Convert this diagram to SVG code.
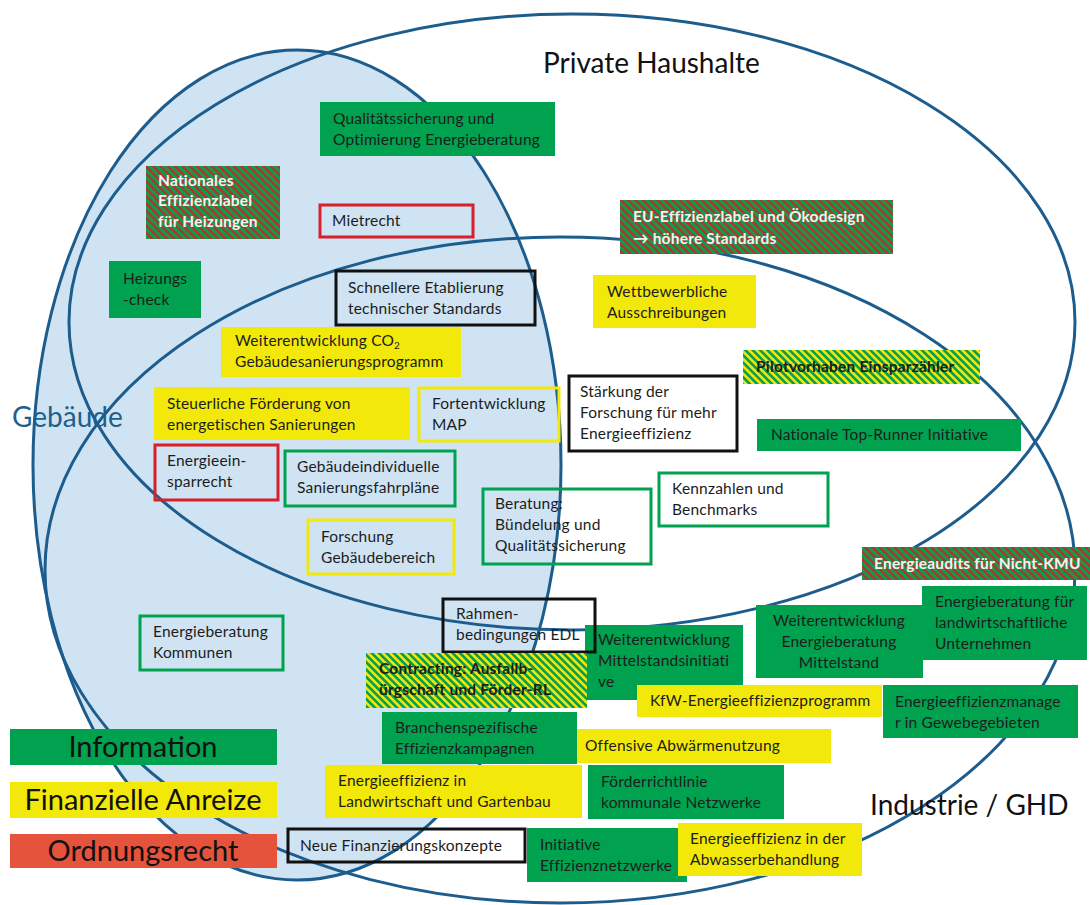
<svg xmlns="http://www.w3.org/2000/svg" width="1090" height="905" viewBox="0 0 1090 905">
<defs>
<pattern id="stripesRG" width="5.2" height="5.2" patternUnits="userSpaceOnUse" patternTransform="rotate(-45)"><rect width="5.2" height="5.2" fill="#0a9f4c"/><rect width="2.2" height="5.2" fill="#bf2a2a"/></pattern>
<pattern id="stripesYG" width="5.2" height="5.2" patternUnits="userSpaceOnUse" patternTransform="rotate(-45)"><rect width="5.2" height="5.2" fill="#0a9f4c"/><rect width="2.6" height="5.2" fill="#f0e60f"/></pattern>
<style>
.set{fill:none;stroke:#1d5d8e;stroke-width:3}
.fg{fill:#00a14f}
.fy{fill:#f2e90a}
.fr{fill:#e5533c}
.frg{fill:url(#stripesRG)}
.fyg{fill:url(#stripesYG)}
.bk{fill:none;stroke:#111;stroke-width:3}
.br{fill:none;stroke:#d8202a;stroke-width:3}
.bg{fill:none;stroke:#00a14f;stroke-width:3}
.by{fill:none;stroke:#f2e90a;stroke-width:3}
text{font-family:Lato,"Liberation Sans",sans-serif}
.t{font-size:15.5px;letter-spacing:0.2px;fill:#1c1c1c}
.tw{font-size:15.5px;letter-spacing:0.2px;fill:#f4f4f4;font-weight:bold}
.td{font-size:15.5px;letter-spacing:0.2px;fill:#1c1c1c;font-weight:bold}
.leg{font-size:29px;fill:#111;text-anchor:middle}
.title{font-size:28px;fill:#111}
</style>
</defs>
<rect width="1090" height="905" fill="#fff"/>
<g id="sets">
<ellipse cx="297" cy="465" rx="264" ry="415" fill="#cfe3f3" stroke="none"/>
<ellipse class="set" cx="297" cy="465" rx="264" ry="415"/>
<ellipse class="set" cx="572" cy="322" rx="503" ry="308"/>
<ellipse class="set" cx="560" cy="570" rx="515" ry="333"/>
</g>
<g id="titles">
<text class="title" x="543" y="73">Private Haushalte</text>
<text class="title" x="12" y="427" style="fill:#1f5f8b">Gebäude</text>
<text class="title" x="870" y="815">Industrie / GHD</text>
</g>
<g id="n-qualitaet"><rect class="fg" x="320" y="102" width="235" height="54"/><text class="t"><tspan x="333" y="124">Qualitätssicherung und</tspan><tspan x="333" y="145">Optimierung Energieberatung</tspan></text></g>
<g id="n-nationales"><rect class="frg" x="146" y="166" width="134" height="73"/><text class="tw"><tspan x="158" y="186">Nationales</tspan><tspan x="158" y="206">Effizienzlabel</tspan><tspan x="158" y="227">für Heizungen</tspan></text></g>
<g id="n-mietrecht"><rect class="br" x="320" y="205" width="153" height="32"/><text class="t"><tspan x="332" y="226">Mietrecht</tspan></text></g>
<g id="n-heizungscheck"><rect class="fg" x="109" y="261" width="92" height="57"/><text class="t"><tspan x="123" y="284">Heizungs</tspan><tspan x="123" y="305">-check</tspan></text></g>
<g id="n-schnellere"><rect class="bk" x="336" y="271" width="199" height="54"/><text class="t"><tspan x="348" y="293">Schnellere Etablierung</tspan><tspan x="348" y="314">technischer Standards</tspan></text></g>
<g id="n-eu"><rect class="frg" x="620" y="200" width="273" height="54"/><text class="tw"><tspan x="633" y="222">EU-Effizienzlabel  und Ökodesign</tspan><tspan x="633" y="244">→ höhere Standards</tspan></text></g>
<g id="n-co2"><rect class="fy" x="221" y="327" width="240" height="50"/><text class="t"><tspan x="235" y="346">Weiterentwicklung CO</tspan><tspan font-size="10" dy="3">2</tspan><tspan x="235" y="367">Gebäudesanierungsprogramm</tspan></text></g>
<g id="n-wettbewerb"><rect class="fy" x="593" y="275" width="163" height="53"/><text class="t"><tspan x="607" y="297">Wettbewerbliche</tspan><tspan x="607" y="318">Ausschreibungen</tspan></text></g>
<g id="n-pilot"><rect class="fyg" x="743" y="350" width="237" height="34"/><text class="td"><tspan x="756" y="372">Pilotvorhaben Einsparzähler</tspan></text></g>
<g id="n-steuer"><rect class="fy" x="154" y="387" width="256" height="53"/><text class="t"><tspan x="167" y="409">Steuerliche Förderung von</tspan><tspan x="167" y="430">energetischen Sanierungen</tspan></text></g>
<g id="n-map"><rect class="by" x="419" y="388" width="140" height="53"/><text class="t"><tspan x="432" y="409">Fortentwicklung</tspan><tspan x="432" y="430">MAP</tspan></text></g>
<g id="n-staerkung"><rect class="bk" x="569" y="376" width="168" height="75"/><text class="t"><tspan x="580" y="397">Stärkung der</tspan><tspan x="580" y="418">Forschung für mehr</tspan><tspan x="580" y="439">Energieeffizienz</tspan></text></g>
<g id="n-toprunner"><rect class="fg" x="757" y="419" width="264" height="32"/><text class="t"><tspan x="771" y="440">Nationale Top-Runner Initiative</tspan></text></g>
<g id="n-energieeinspar"><rect class="br" x="155" y="445" width="123" height="55"/><text class="t"><tspan x="167" y="466">Energieein-</tspan><tspan x="167" y="487">sparrecht</tspan></text></g>
<g id="n-fahrplaene"><rect class="bg" x="285" y="451" width="170" height="55"/><text class="t"><tspan x="297" y="472">Gebäudeindividuelle</tspan><tspan x="297" y="493">Sanierungsfahrpläne</tspan></text></g>
<g id="n-kennzahlen"><rect class="bg" x="659" y="473" width="169" height="53"/><text class="t"><tspan x="672" y="494">Kennzahlen und</tspan><tspan x="672" y="515">Benchmarks</tspan></text></g>
<g id="n-beratung"><rect class="bg" x="483" y="489" width="168" height="75"/><text class="t"><tspan x="495" y="509">Beratung:</tspan><tspan x="495" y="530">Bündelung und</tspan><tspan x="495" y="551">Qualitätssicherung</tspan></text></g>
<g id="n-forschung"><rect class="by" x="308" y="520" width="146" height="54"/><text class="t"><tspan x="321" y="542">Forschung</tspan><tspan x="321" y="563">Gebäudebereich</tspan></text></g>
<g id="n-audits"><rect class="frg" x="862" y="547" width="228" height="33"/><text class="tw"><tspan x="874" y="569">Energieaudits für Nicht-KMU</tspan></text></g>
<g id="n-kommunen"><rect class="bg" x="140" y="616" width="143" height="54"/><text class="t"><tspan x="153" y="637">Energieberatung</tspan><tspan x="153" y="658">Kommunen</tspan></text></g>
<g id="n-landwirt-beratung"><rect class="fg" x="922" y="586" width="165" height="74"/><text class="t"><tspan x="935" y="607">Energieberatung für</tspan><tspan x="935" y="628">landwirtschaftliche</tspan><tspan x="935" y="649">Unternehmen</tspan></text></g>
<g id="n-mittelstand-beratung"><rect class="fg" x="756" y="605" width="167" height="73"/><text class="t" text-anchor="middle"><tspan x="839" y="626">Weiterentwicklung</tspan><tspan x="839" y="647">Energieberatung</tspan><tspan x="839" y="668">Mittelstand</tspan></text></g>
<g id="n-mittelstandsinitiative"><rect class="fg" x="585" y="625" width="158" height="75"/><text class="t"><tspan x="598" y="645">Weiterentwicklung</tspan><tspan x="598" y="666">Mittelstandsinitiati</tspan><tspan x="598" y="687">ve</tspan></text></g>
<g id="n-rahmen"><rect class="bk" x="443" y="599" width="152" height="53"/><text class="t"><tspan x="456" y="619">Rahmen-</tspan><tspan x="456" y="640">bedingungen EDL</tspan></text></g>
<g id="n-contracting"><rect class="fyg" x="366" y="653" width="221" height="55"/><text class="td"><tspan x="379" y="674">Contracting: Ausfallb-</tspan><tspan x="379" y="695">ürgschaft und Förder-RL</tspan></text></g>
<g id="n-kfw"><rect class="fy" x="637" y="685" width="245" height="32"/><text class="t"><tspan x="650" y="706">KfW-Energieeffizienzprogramm</tspan></text></g>
<g id="n-manager"><rect class="fg" x="883" y="685" width="195" height="53"/><text class="t"><tspan x="895" y="707">Energieeffizienzmanage</tspan><tspan x="895" y="728">r in Gewebegebieten</tspan></text></g>
<g id="n-branchen"><rect class="fg" x="382" y="712" width="195" height="52"/><text class="t"><tspan x="395" y="733">Branchenspezifische</tspan><tspan x="395" y="754">Effizienzkampagnen</tspan></text></g>
<g id="n-abwaerme"><rect class="fy" x="577" y="729" width="254" height="34"/><text class="t"><tspan x="585" y="751">Offensive Abwärmenutzung</tspan></text></g>
<g id="n-landwirt"><rect class="fy" x="325" y="765" width="257" height="53"/><text class="t"><tspan x="338" y="786">Energieeffizienz in</tspan><tspan x="338" y="807">Landwirtschaft und Gartenbau</tspan></text></g>
<g id="n-foerder"><rect class="fg" x="588" y="765" width="196" height="54"/><text class="t"><tspan x="601" y="787">Förderrichtlinie</tspan><tspan x="601" y="808">kommunale Netzwerke</tspan></text></g>
<g id="n-neue"><rect class="bk" x="288" y="829" width="237" height="33"/><text class="t"><tspan x="300" y="851">Neue Finanzierungskonzepte</tspan></text></g>
<g id="n-netzwerke"><rect class="fg" x="527" y="828" width="160" height="54"/><text class="t"><tspan x="540" y="850">Initiative</tspan><tspan x="540" y="871">Effizienznetzwerke</tspan></text></g>
<g id="n-abwasser"><rect class="fy" x="678" y="823" width="184" height="53"/><text class="t"><tspan x="690" y="844">Energieeffizienz in der</tspan><tspan x="690" y="865">Abwasserbehandlung</tspan></text></g>
<g id="legend">
<g id="leg-info"><rect class="fg" x="10" y="729" width="267" height="36"/><text class="leg" x="143" y="757">Information</text></g>
<g id="leg-fin"><rect class="fy" x="10" y="782" width="267" height="36"/><text class="leg" x="143" y="810">Finanzielle Anreize</text></g>
<g id="leg-ord"><rect class="fr" x="10" y="834" width="267" height="34"/><text class="leg" x="143" y="861">Ordnungsrecht</text></g>
</g>
</svg>
